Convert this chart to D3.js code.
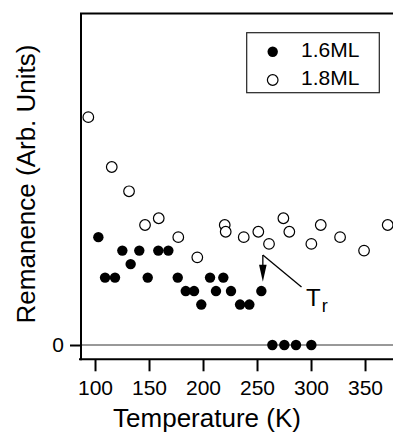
<!DOCTYPE html>
<html><head><meta charset="utf-8">
<script src="https://cdn.jsdelivr.net/npm/d3@7"></script>
<style>html,body{margin:0;padding:0;background:#fff;}svg{display:block;font-family:"Liberation Sans",Arial,sans-serif;}</style>
</head><body>
<script>
// 1.6ML (filled)
const temp16 = [103.1,109.3,118.5,125.3,133,141,148.8,158.6,167.9,176.6,184,191.7,198.4,206.5,212,218.8,225.9,234.3,242.9,254,264.2,275.3,286.1,300.3];
const rem16  = [8,5,5,7,6,7,5,7,7,5,4,4,3,5,4,5,4,3,3,4,0,0,0,0];
// 1.8ML (open)
const temp18 = [93.8,115.5,131.5,146.3,159,177.1,194.7,220.1,221,237.7,251.2,261.1,274.4,279.9,300.3,309,326.9,349.1,371];
const rem18  = [16.9,13.2,11.4,8.9,9.4,8.0,6.5,8.9,8.4,8.0,8.4,7.5,9.4,8.4,7.5,8.9,8.0,7.0,8.9];
const xTicks = [100,150,200,250,300,350];
const yTicks = [0];
const seriesNames = ["1.6ML","1.8ML"];

const W=393,H=442;
const svg=d3.select("body").append("svg").attr("width",W).attr("height",H);
const x=d3.scaleLinear().domain([86.1,375.9]).range([80,393]);
const y=d3.scaleLinear().domain([-1.06,24.6]).range([359.3,13.3]);

// zero line
svg.append("line").attr("x1",80).attr("x2",W).attr("y1",y(0)).attr("y2",y(0))
  .attr("stroke","#333").attr("stroke-width",1);

// x axis
const gx=svg.append("g").attr("transform","translate(0,359.3)")
  .call(d3.axisBottom(x).tickValues(xTicks).tickSize(12).tickPadding(9).tickFormat(d3.format("d")));
gx.select(".domain").remove();
gx.selectAll(".tick line").attr("stroke","#000").attr("stroke-width",2);
gx.selectAll("text").attr("font-size",21).attr("fill","#000").attr("font-family","Liberation Sans, Arial, sans-serif");
svg.append("line").attr("x1",79).attr("x2",W).attr("y1",359.3).attr("y2",359.3).attr("stroke","#000").attr("stroke-width",2);

// y axis
const gy=svg.append("g").attr("transform","translate(81,0)")
  .call(d3.axisLeft(y).tickValues(yTicks).tickSize(11).tickPadding(6));
gy.select(".domain").remove();
gy.selectAll(".tick line").attr("stroke","#000").attr("stroke-width",2);
gy.selectAll("text").attr("font-size",21).attr("fill","#000").attr("font-family","Liberation Sans, Arial, sans-serif");
svg.append("line").attr("x1",81).attr("x2",81).attr("y1",13.3).attr("y2",360.3).attr("stroke","#000").attr("stroke-width",2);
// top frame
svg.append("line").attr("x1",80).attr("x2",W).attr("y1",13.5).attr("y2",13.5).attr("stroke","#000").attr("stroke-width",2);

// axis titles
svg.append("text").attr("x",207).attr("y",427).attr("text-anchor","middle").attr("font-size",26).text("Temperature (K)");
svg.append("text").attr("transform","translate(35,184) rotate(-90)").attr("text-anchor","middle").attr("font-size",26).text("Remanence (Arb. Units)");

// data
svg.append("g").selectAll("circle").data(temp18.map((t,i)=>[t,rem18[i]])).join("circle")
  .attr("cx",d=>x(d[0])).attr("cy",d=>y(d[1])).attr("r",5.3)
  .attr("fill","#fff").attr("stroke","#000").attr("stroke-width",1.2);
svg.append("g").selectAll("circle").data(temp16.map((t,i)=>[t,rem16[i]])).join("circle")
  .attr("cx",d=>x(d[0])).attr("cy",d=>y(d[1])).attr("r",5.2).attr("fill","#000");

// annotation T_r
const ax=x(254)+1.5, ay0=255, ay1=281.7;
svg.append("line").attr("x1",ax).attr("x2",ax).attr("y1",ay0).attr("y2",ay1-10).attr("stroke","#000").attr("stroke-width",1.3);
svg.append("path").attr("d",`M${ax-3.8},${ay1-17} L${ax+3.8},${ay1-17} L${ax},${ay1} Z`).attr("fill","#000");
svg.append("line").attr("x1",ax).attr("y1",ay0).attr("x2",301.5).attr("y2",287).attr("stroke","#000").attr("stroke-width",1.3);
const tr=svg.append("text").attr("x",306).attr("y",306).attr("font-size",24);
tr.append("tspan").text("T");
tr.append("tspan").attr("font-size",18).attr("dy",6).attr("dx",1).text("r");

// legend
svg.append("rect").attr("x",246.7).attr("y",32.7).attr("width",132.6).attr("height",60).attr("fill","#fff").attr("stroke","#222").attr("stroke-width",1.2);
svg.append("circle").attr("cx",272.7).attr("cy",51.7).attr("r",5.2).attr("fill","#000");
svg.append("circle").attr("cx",272.7).attr("cy",80).attr("r",5.3).attr("fill","#fff").attr("stroke","#000").attr("stroke-width",1.2);
svg.append("text").attr("x",301).attr("y",57).attr("font-size",21).text(seriesNames[0]);
svg.append("text").attr("x",301).attr("y",85.3).attr("font-size",21).text(seriesNames[1]);
</script>
</body></html>
